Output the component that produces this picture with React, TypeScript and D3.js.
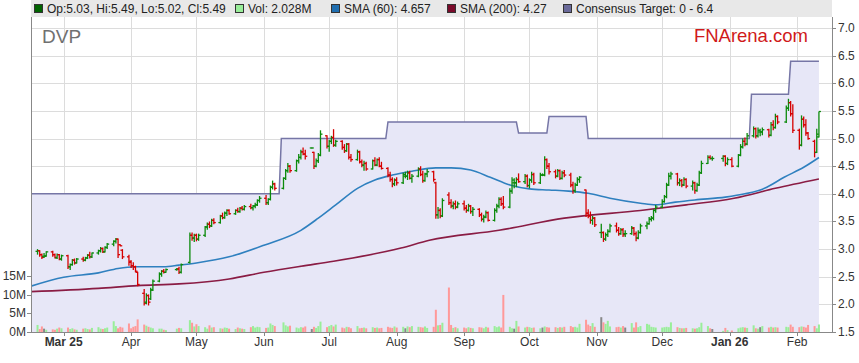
import React from 'react';
import * as d3 from 'd3';

type Bar = [number, number, number, number]; // open, high, low, close

// ---- daily OHLC ----
const feb25: Bar[] = [
  [2.96, 3.0, 2.9, 2.97], [2.97, 2.98, 2.86, 2.9], [2.9, 2.92, 2.82, 2.85], [2.87, 2.93, 2.84, 2.87], [2.88, 2.96, 2.86, 2.95],
  [2.95, 2.97, 2.86, 2.9], [2.9, 2.92, 2.83, 2.85], [2.84, 2.92, 2.82, 2.9], [2.9, 2.91, 2.8, 2.82], [2.82, 2.9, 2.79, 2.88],
];
const mar25: Bar[] = [
  [2.88, 2.9, 2.64, 2.68], [2.68, 2.74, 2.62, 2.72], [2.72, 2.82, 2.7, 2.8], [2.8, 2.83, 2.72, 2.75], [2.75, 2.84, 2.74, 2.82],
  [2.82, 2.86, 2.77, 2.8], [2.8, 2.86, 2.78, 2.84], [2.84, 2.91, 2.82, 2.89], [2.89, 2.95, 2.83, 2.86], [2.86, 2.94, 2.84, 2.93],
  [2.93, 2.99, 2.9, 2.97], [2.97, 3.04, 2.94, 3.01], [3.01, 3.03, 2.93, 2.95], [2.95, 3.05, 2.94, 3.03], [3.03, 3.11, 3.0, 3.09],
  [3.09, 3.16, 3.05, 3.14], [3.14, 3.2, 3.1, 3.18], [3.18, 3.19, 2.84, 2.9], [3.08, 3.09, 3.05, 3.06], [2.98, 3.0, 2.82, 2.86],
  [2.86, 2.9, 2.7, 2.76],
];
const apr25: Bar[] = [
  [2.78, 2.8, 2.66, 2.7], [2.7, 2.76, 2.62, 2.68], [2.68, 2.7, 2.58, 2.6], [2.58, 2.59, 2.33, 2.36], [2.2, 2.28, 1.98, 2.02],
  [2.04, 2.2, 2.0, 2.16], [2.16, 2.18, 1.98, 2.04], [2.1, 2.3, 2.08, 2.26], [2.26, 2.45, 2.24, 2.42], [2.42, 2.58, 2.4, 2.55],
  [2.55, 2.62, 2.5, 2.6], [2.6, 2.64, 2.56, 2.58], [2.58, 2.65, 2.57, 2.63], [2.63, 2.66, 2.61, 2.64], [2.64, 2.68, 2.55, 2.58],
  [2.58, 2.74, 2.56, 2.72], [2.76, 3.3, 2.74, 3.25], [3.25, 3.3, 3.15, 3.2], [3.2, 3.28, 3.13, 3.25],
];
const may25: Bar[] = [
  [3.25, 3.28, 3.14, 3.18], [3.18, 3.28, 3.15, 3.25], [3.25, 3.42, 3.22, 3.4], [3.4, 3.48, 3.35, 3.45], [3.45, 3.5, 3.38, 3.42],
  [3.42, 3.55, 3.4, 3.52], [3.52, 3.56, 3.45, 3.48], [3.48, 3.62, 3.46, 3.6], [3.6, 3.66, 3.54, 3.57], [3.57, 3.68, 3.55, 3.65],
  [3.65, 3.72, 3.6, 3.7], [3.7, 3.72, 3.62, 3.64], [3.64, 3.72, 3.62, 3.7], [3.7, 3.75, 3.66, 3.68], [3.68, 3.76, 3.66, 3.74],
  [3.74, 3.78, 3.7, 3.72], [3.72, 3.8, 3.7, 3.77], [3.77, 3.82, 3.72, 3.75], [3.75, 3.8, 3.7, 3.78], [3.78, 3.84, 3.74, 3.8],
  [3.8, 3.9, 3.78, 3.88], [3.88, 3.96, 3.84, 3.92],
];
const jun25: Bar[] = [
  [3.92, 3.98, 3.8, 3.84], [3.84, 3.92, 3.8, 3.9], [3.9, 4.15, 3.88, 4.12], [4.12, 4.24, 4.08, 4.18], [4.18, 4.2, 4.06, 4.1],
  [4.1, 4.3, 4.08, 4.28], [4.28, 4.45, 4.25, 4.42], [4.42, 4.56, 4.38, 4.5], [4.5, 4.52, 4.38, 4.42], [4.42, 4.62, 4.4, 4.6],
  [4.6, 4.72, 4.55, 4.66], [4.66, 4.8, 4.62, 4.76], [4.76, 4.84, 4.7, 4.72], [4.72, 4.8, 4.62, 4.68], [4.83, 4.84, 4.82, 4.83],
  [4.75, 4.76, 4.45, 4.5], [4.5, 4.64, 4.48, 4.6], [4.6, 4.74, 4.56, 4.7], [4.7, 5.15, 4.68, 5.08], [5.05, 5.06, 4.82, 4.86],
];
const jul25: Bar[] = [
  [4.86, 4.98, 4.76, 4.95], [4.95, 5.05, 4.9, 5.02], [5.02, 5.17, 4.85, 4.88], [4.88, 4.98, 4.85, 4.95], [4.95, 4.97, 4.8, 4.84],
  [4.84, 4.9, 4.74, 4.78], [4.78, 4.92, 4.76, 4.9], [4.9, 4.92, 4.62, 4.66], [4.66, 4.72, 4.58, 4.62], [4.62, 4.8, 4.6, 4.76],
  [4.76, 4.78, 4.55, 4.58], [4.58, 4.62, 4.48, 4.52], [4.52, 4.6, 4.42, 4.55], [4.55, 4.58, 4.42, 4.45], [4.45, 4.62, 4.44, 4.6],
  [4.6, 4.66, 4.5, 4.52], [4.52, 4.64, 4.5, 4.62], [4.62, 4.66, 4.48, 4.5], [4.5, 4.58, 4.44, 4.46], [4.46, 4.48, 4.3, 4.34],
  [4.34, 4.4, 4.22, 4.26], [4.26, 4.3, 4.12, 4.18], [4.18, 4.28, 4.14, 4.25],
];
const aug25: Bar[] = [
  [4.25, 4.3, 4.15, 4.2], [4.2, 4.38, 4.18, 4.35], [4.32, 4.4, 4.28, 4.32], [4.32, 4.42, 4.25, 4.38], [4.38, 4.42, 4.26, 4.28],
  [4.28, 4.36, 4.2, 4.32], [4.32, 4.48, 4.3, 4.45], [4.45, 4.5, 4.32, 4.35], [4.35, 4.42, 4.2, 4.24], [4.24, 4.38, 4.22, 4.36],
  [4.36, 4.45, 4.3, 4.4], [4.4, 4.42, 4.22, 4.26], [4.2, 4.22, 3.55, 3.62], [3.62, 3.76, 3.55, 3.7], [3.7, 3.74, 3.56, 3.6],
  [3.6, 3.92, 3.58, 3.88], [3.98, 4.03, 3.8, 3.84], [3.84, 3.9, 3.74, 3.78], [3.78, 3.86, 3.72, 3.82], [3.82, 3.88, 3.72, 3.76],
  [3.76, 3.86, 3.74, 3.82],
];
const sep25: Bar[] = [
  [3.82, 3.88, 3.7, 3.74], [3.74, 3.8, 3.66, 3.7], [3.7, 3.82, 3.68, 3.78], [3.78, 3.8, 3.64, 3.68], [3.68, 3.76, 3.6, 3.72],
  [3.72, 3.74, 3.58, 3.62], [3.62, 3.66, 3.5, 3.54], [3.54, 3.62, 3.48, 3.58], [3.58, 3.7, 3.56, 3.66], [3.66, 3.68, 3.5, 3.52],
  [3.52, 3.74, 3.5, 3.7], [3.7, 3.82, 3.66, 3.78], [3.78, 3.94, 3.74, 3.9], [3.9, 3.94, 3.78, 3.82], [3.82, 3.96, 3.72, 3.76],
  [3.76, 4.1, 3.74, 4.05], [4.05, 4.3, 4.0, 4.25], [4.2, 4.28, 4.1, 4.2], [4.2, 4.3, 4.12, 4.26], [4.26, 4.37, 4.2, 4.22],
  [4.22, 4.36, 4.18, 4.32], [4.32, 4.35, 4.12, 4.15],
];
const oct25: Bar[] = [
  [4.15, 4.28, 4.1, 4.25], [4.25, 4.4, 4.2, 4.35], [4.35, 4.38, 4.16, 4.2], [4.2, 4.38, 4.18, 4.34], [4.34, 4.37, 4.32, 4.34],
  [4.34, 4.68, 4.32, 4.62], [4.62, 4.64, 4.45, 4.5], [4.5, 4.56, 4.35, 4.4], [4.4, 4.44, 4.28, 4.32], [4.32, 4.45, 4.3, 4.42],
  [4.42, 4.44, 4.25, 4.28], [4.28, 4.42, 4.26, 4.38], [4.38, 4.43, 4.3, 4.34], [4.34, 4.38, 4.12, 4.16], [4.16, 4.22, 4.0, 4.06],
  [4.06, 4.2, 4.02, 4.16], [4.16, 4.3, 4.14, 4.26], [4.26, 4.32, 4.2, 4.3], [4.07, 4.08, 3.58, 3.65], [3.65, 3.72, 3.56, 3.6],
  [3.6, 3.68, 3.46, 3.52], [3.52, 3.6, 3.44, 3.56], [3.56, 3.58, 3.4, 3.44],
];
const nov25: Bar[] = [
  [3.3, 3.46, 3.2, 3.3], [3.3, 3.32, 3.13, 3.18], [3.18, 3.3, 3.15, 3.26], [3.26, 3.36, 3.22, 3.32], [3.32, 3.46, 3.3, 3.42],
  [3.42, 3.48, 3.3, 3.34], [3.34, 3.4, 3.24, 3.28], [3.28, 3.38, 3.26, 3.35], [3.35, 3.38, 3.22, 3.26], [3.28, 3.34, 3.22, 3.28],
  [3.28, 3.42, 3.26, 3.38], [3.38, 3.4, 3.24, 3.28], [3.28, 3.32, 3.14, 3.2], [3.2, 3.34, 3.18, 3.3], [3.3, 3.46, 3.28, 3.42],
  [3.42, 3.5, 3.36, 3.46], [3.46, 3.58, 3.44, 3.54], [3.54, 3.6, 3.5, 3.56], [3.56, 3.72, 3.52, 3.7], [3.7, 3.8, 3.66, 3.76],
];
const dec25: Bar[] = [
  [3.76, 3.9, 3.74, 3.86], [3.86, 3.98, 3.84, 3.95], [3.95, 4.2, 3.92, 4.16], [4.16, 4.38, 4.14, 4.32], [4.32, 4.4, 4.26, 4.36],
  [4.36, 4.38, 4.15, 4.2], [4.2, 4.28, 4.14, 4.24], [4.24, 4.27, 4.12, 4.16], [4.16, 4.3, 4.14, 4.26], [4.26, 4.28, 4.1, 4.14],
  [4.14, 4.24, 4.06, 4.2], [4.2, 4.22, 4.0, 4.06], [4.06, 4.2, 4.04, 4.16], [4.16, 4.42, 4.14, 4.38], [4.38, 4.6, 4.36, 4.55],
  [4.55, 4.7, 4.54, 4.66], [4.66, 4.7, 4.62, 4.64], [4.64, 4.68, 4.6, 4.64], [4.64, 4.7, 4.58, 4.68], [4.68, 4.7, 4.5, 4.55],
  [4.55, 4.66, 4.52, 4.62],
];
const jan26: Bar[] = [
  [4.62, 4.66, 4.48, 4.5], [4.5, 4.72, 4.48, 4.7], [4.7, 4.9, 4.68, 4.85], [4.85, 5.0, 4.82, 4.95], [4.95, 5.02, 4.86, 4.9],
  [4.9, 5.1, 4.88, 5.05], [5.05, 5.22, 5.02, 5.18], [5.18, 5.2, 5.0, 5.05], [5.05, 5.2, 5.02, 5.15], [5.12, 5.18, 5.04, 5.12],
  [5.12, 5.2, 5.06, 5.16], [5.16, 5.18, 5.02, 5.06], [5.06, 5.3, 5.04, 5.25], [5.25, 5.33, 5.15, 5.2], [5.2, 5.45, 5.18, 5.4],
  [5.4, 5.42, 5.26, 5.3], [5.3, 5.6, 5.28, 5.55], [5.55, 5.72, 5.5, 5.65], [5.65, 5.68, 5.4, 5.45], [5.45, 5.62, 5.1, 5.15],
];
const feb26: Bar[] = [
  [5.15, 5.18, 4.8, 4.88], [4.88, 5.42, 4.86, 5.35], [5.35, 5.4, 5.2, 5.25], [5.25, 5.35, 5.05, 5.1], [5.1, 5.12, 4.98, 5.0],
  [4.95, 4.98, 4.66, 4.75], [4.75, 5.18, 4.74, 5.08], [5.03, 5.49, 5.02, 5.49],
];

// ---- daily volume, millions ----
const volFeb25 = [1.9, 0.8, 1.5, 0.9, 0.6, 0.7, 0.6, 0.9, 1.2, 1.0];
const volMar25 = [1.2, 0.8, 1.0, 0.7, 0.6, 0.9, 1.0, 0.8, 0.7, 1.1, 1.3, 0.9, 0.8, 1.0, 1.2, 2.9, 1.6, 1.0, 1.4, 1.2, 2.3];
const volApr25 = [1.0, 1.4, 1.6, 3.4, 2.0, 1.7, 1.4, 1.2, 1.0, 0.9, 0.9, 0.6, 0.5, 0.9, 1.1, 1.0, 3.2, 2.5, 1.5];
const volMay25 = [2.1, 1.6, 1.3, 0.9, 1.8, 1.2, 1.3, 1.0, 0.9, 1.2, 1.1, 0.9, 0.8, 1.2, 1.0, 0.9, 0.8, 1.3, 1.6, 1.2, 1.4, 1.3];
const volJun25 = [1.1, 1.2, 2.3, 1.9, 1.6, 2.6, 1.8, 1.5, 1.7, 1.2, 1.0, 1.3, 1.2, 1.5, 0.8, 1.4, 1.1, 1.6, 2.8, 1.3];
const volJul25 = [1.6, 1.9, 1.5, 2.0, 1.2, 1.0, 1.4, 1.3, 1.0, 1.6, 1.0, 1.1, 1.2, 1.0, 1.3, 1.1, 1.2, 1.0, 1.1, 1.4, 1.2, 1.1, 1.5];
const volAug25 = [1.2, 1.4, 1.0, 1.5, 1.3, 1.6, 1.4, 1.3, 1.2, 1.5, 1.1, 1.4, 6.0, 1.8, 1.9, 2.5, 12.0, 1.9, 1.1, 1.3, 1.0];
const volSep25 = [1.2, 1.0, 1.3, 1.1, 1.0, 1.3, 1.2, 1.0, 1.4, 1.2, 1.6, 1.3, 1.5, 1.2, 10.0, 1.4, 1.0, 0.9, 3.0, 1.5, 1.2, 1.4];
const volOct25 = [1.3, 1.1, 1.2, 1.0, 1.2, 1.5, 1.3, 1.2, 1.3, 1.1, 1.3, 1.2, 1.4, 1.6, 1.3, 1.4, 1.2, 2.2, 3.3, 2.0, 1.6, 2.4, 1.4];
const volNov25 = [4.0, 2.6, 2.2, 3.0, 1.5, 1.3, 1.4, 1.2, 1.6, 1.2, 2.4, 1.2, 2.6, 1.3, 1.6, 2.2, 2.0, 1.4, 1.3, 1.2];
const volDec25 = [1.2, 1.3, 1.4, 1.3, 2.6, 1.3, 1.1, 1.0, 1.0, 1.1, 1.0, 0.9, 1.0, 1.3, 2.5, 1.6, 1.0, 0.8, 0.3, 1.1, 0.5];
const volJan26 = [0.4, 1.0, 1.2, 1.3, 1.2, 1.1, 1.8, 1.0, 0.9, 1.3, 1.6, 1.2, 1.4, 1.2, 1.3, 1.2, 1.4, 1.3, 2.0, 1.4];
const volFeb26 = [1.3, 1.5, 1.4, 1.2, 1.9, 1.6, 1.0, 2.028];

// ASX closed days inside the range
const holidays = ['2025-04-18', '2025-04-21', '2025-04-25', '2025-06-09', '2025-12-25', '2025-12-26', '2026-01-01', '2026-01-26'];

const months: { from: string; to: string; bars: Bar[]; vol: number[] }[] = [
  { from: '2025-02-17', to: '2025-02-28', bars: feb25, vol: volFeb25 },
  { from: '2025-03-01', to: '2025-03-31', bars: mar25, vol: volMar25 },
  { from: '2025-04-01', to: '2025-04-30', bars: apr25, vol: volApr25 },
  { from: '2025-05-01', to: '2025-05-31', bars: may25, vol: volMay25 },
  { from: '2025-06-01', to: '2025-06-30', bars: jun25, vol: volJun25 },
  { from: '2025-07-01', to: '2025-07-31', bars: jul25, vol: volJul25 },
  { from: '2025-08-01', to: '2025-08-31', bars: aug25, vol: volAug25 },
  { from: '2025-09-01', to: '2025-09-30', bars: sep25, vol: volSep25 },
  { from: '2025-10-01', to: '2025-10-31', bars: oct25, vol: volOct25 },
  { from: '2025-11-01', to: '2025-11-30', bars: nov25, vol: volNov25 },
  { from: '2025-12-01', to: '2025-12-31', bars: dec25, vol: volDec25 },
  { from: '2026-01-01', to: '2026-01-31', bars: jan26, vol: volJan26 },
  { from: '2026-02-01', to: '2026-02-11', bars: feb26, vol: volFeb26 },
];

// consensus target: date it changed, new value
const consensus: [string, number][] = [
  ['2025-02-14', 4.0], ['2025-06-09', 5.0], ['2025-07-28', 5.3], ['2025-09-26', 5.1],
  ['2025-10-10', 5.4], ['2025-10-28', 5.0], ['2026-01-11', 5.8], ['2026-01-29', 6.4],
];
const lastDay = '2026-02-11';

// moving averages
const sma60: [string, number][] = [
  ['2025-02-14', 2.33], ['2025-03-01', 2.49], ['2025-03-17', 2.57], ['2025-03-26', 2.65], ['2025-04-03', 2.68],
  ['2025-04-16', 2.68], ['2025-04-23', 2.71], ['2025-05-01', 2.75], ['2025-05-16', 2.86],
  ['2025-06-01', 3.07], ['2025-06-18', 3.34], ['2025-06-26', 3.56], ['2025-07-04', 3.8], ['2025-07-14', 4.1],
  ['2025-07-22', 4.25], ['2025-07-30', 4.34], ['2025-08-08', 4.41], ['2025-08-19', 4.47], ['2025-08-26', 4.47],
  ['2025-09-04', 4.43], ['2025-09-13', 4.3], ['2025-09-22', 4.16], ['2025-10-01', 4.09], ['2025-10-10', 4.07],
  ['2025-10-19', 4.05], ['2025-10-28', 4.01], ['2025-11-07', 3.92], ['2025-11-21', 3.83], ['2025-11-28', 3.8],
  ['2025-12-07', 3.85], ['2025-12-16', 3.89], ['2025-12-30', 3.94], ['2026-01-08', 4.0], ['2026-01-17', 4.1],
  ['2026-01-26', 4.3], ['2026-02-04', 4.48], ['2026-02-11', 4.657],
];
const sma200: [string, number][] = [
  ['2025-02-14', 2.23], ['2025-03-17', 2.29], ['2025-04-04', 2.34], ['2025-04-23', 2.37], ['2025-05-16', 2.46],
  ['2025-06-01', 2.58], ['2025-06-18', 2.69], ['2025-07-03', 2.78], ['2025-08-03', 3.02], ['2025-08-16', 3.16],
  ['2025-09-17', 3.34], ['2025-10-17', 3.56], ['2025-11-21', 3.7], ['2025-12-12', 3.8], ['2026-01-03', 3.92],
  ['2026-01-22', 4.1], ['2026-02-11', 4.27],
];

const priceTicks = [1.5, 2.0, 2.5, 3.0, 3.5, 4.0, 4.5, 5.0, 5.5, 6.0, 6.5, 7.0];
const volTicks = [0, 5, 10, 15];

const parse = d3.timeParse('%Y-%m-%d');
const fmt = d3.timeFormat('%Y-%m-%d');

const W = 859;
const H = 363;
const plot = { left: 31, right: 832, top: 17, bottom: 332 };
const FONT = 'Arial, "Liberation Sans", sans-serif';

function tradingDays(from: string, to: string): Date[] {
  const out: Date[] = [];
  const end = parse(to)!;
  for (let d = parse(from)!; d <= end; d = d3.timeDay.offset(d, 1)) {
    const wd = d.getDay();
    if (wd === 0 || wd === 6 || holidays.includes(fmt(d))) continue;
    out.push(d);
  }
  return out;
}

interface Day { date: Date; o: number; h: number; l: number; c: number; v: number }

const days: Day[] = [];
months.forEach((m) => {
  const dates = tradingDays(m.from, m.to);
  const n = Math.min(dates.length, m.bars.length, m.vol.length);
  for (let i = 0; i < n; i++) {
    const [o, h, l, c] = m.bars[i];
    days.push({ date: dates[i], o, h, l, c, v: m.vol[i] });
  }
});

export default function App() {
  const x = d3.scaleTime()
    .domain([parse('2025-02-14')!, parse('2026-02-17')!])
    .range([plot.left, plot.right]);
  const y = d3.scaleLinear().domain([1.5, 7.2]).range([plot.bottom, plot.top]);
  const yVol = d3.scaleLinear().domain([0, 85]).range([plot.bottom, plot.top]);

  // consensus as a daily step line
  const consPts: [Date, number][] = [];
  consensus.forEach(([d, v], i) => {
    const date = parse(d)!;
    if (i > 0) consPts.push([d3.timeDay.offset(date, -1), consensus[i - 1][1]]);
    consPts.push([date, v]);
  });
  consPts.push([parse(lastDay)!, consensus[consensus.length - 1][1]]);

  const consLine = d3.line<[Date, number]>().x((d) => x(d[0])).y((d) => y(d[1]))(consPts) || '';
  const consArea = d3.area<[Date, number]>().x((d) => x(d[0])).y0(plot.bottom).y1((d) => y(d[1]))(consPts) || '';

  const smaLine = d3.line<[string, number]>()
    .x((d) => x(parse(d[0])!))
    .y((d) => y(d[1]))
    .curve(d3.curveMonotoneX);

  const monthTicks = d3.timeMonth.range(parse('2025-03-01')!, parse('2026-02-02')!);
  const monthLabel = (d: Date) =>
    d.getMonth() === 0 || (d.getMonth() === 2 && d.getFullYear() === 2025)
      ? d3.timeFormat('%b %y')(d)
      : d3.timeFormat('%b')(d);

  const green = '#0b8a0b';
  const red = '#d60000';

  const legend = [
    { x: 34, color: '#006400', text: 'Op:5.03, Hi:5.49, Lo:5.02, Cl:5.49' },
    { x: 235, color: '#99ee99', text: 'Vol: 2.028M' },
    { x: 331, color: '#1f6eb0', text: 'SMA (60): 4.657' },
    { x: 447, color: '#7a0a2a', text: 'SMA (200): 4.27' },
    { x: 563, color: '#6a6a9a', text: 'Consensus Target: 0 - 6.4' },
  ];

  return (
    <svg width={W} height={H} style={{ position: 'absolute', left: 0, top: 0, background: '#fff' }} fontFamily={FONT}>
      <defs>
        <clipPath id="plotClip">
          <rect x={plot.left} y={plot.top} width={plot.right - plot.left} height={plot.bottom - plot.top} />
        </clipPath>
      </defs>

      {/* grid */}
      <g stroke="#dcdcdc" strokeWidth={1} shapeRendering="crispEdges">
        {priceTicks.map((t) => (
          <line key={`h${t}`} x1={plot.left} x2={plot.right} y1={Math.round(y(t)) + 0.5} y2={Math.round(y(t)) + 0.5} />
        ))}
        {monthTicks.map((d) => (
          <line key={`v${+d}`} x1={Math.round(x(d)) + 0.5} x2={Math.round(x(d)) + 0.5} y1={plot.top} y2={plot.bottom} />
        ))}
      </g>

      <g clipPath="url(#plotClip)">
        {/* consensus target */}
        <path d={consArea} fill="#e7e7f7" />
        <path d={consLine} fill="none" stroke="#7676a6" strokeWidth={1.5} />

        {/* volume */}
        {days.map((d, i) => (
          <rect
            key={`v${i}`}
            x={x(d.date) - 1}
            width={2}
            y={yVol(d.v)}
            height={plot.bottom - yVol(d.v)}
            fill={d.c > d.o ? '#99ee99' : d.c < d.o ? '#ff9999' : '#888888'}
          />
        ))}

        {/* moving averages */}
        <path d={smaLine(sma200) || ''} fill="none" stroke="#8a1c44" strokeWidth={1.6} />
        <path d={smaLine(sma60) || ''} fill="none" stroke="#2f80bf" strokeWidth={1.6} />

        {/* OHLC bars */}
        {days.map((d, i) => {
          const cx = x(d.date);
          const col = d.c >= d.o ? green : red;
          return (
            <g key={`b${i}`} stroke={col} strokeWidth={1.3}>
              <line x1={cx} x2={cx} y1={y(d.h)} y2={y(d.l)} />
              <line x1={cx - 2} x2={cx} y1={y(d.o)} y2={y(d.o)} />
              <line x1={cx} x2={cx + 2} y1={y(d.c)} y2={y(d.c)} />
            </g>
          );
        })}
      </g>

      {/* legend strip */}
      <rect x={plot.left} y={0} width={plot.right - plot.left} height={17} fill="#e8e8e8" />
      {legend.map((l) => (
        <g key={l.text}>
          <rect x={l.x + 0.5} y={4.5} width={8} height={8} fill={l.color} stroke="#333" strokeWidth={1} />
          <text x={l.x + 13} y={13} fontSize={12} fill="#222">{l.text}</text>
        </g>
      ))}

      {/* titles */}
      <text x={42} y={43} fontSize={19} fill="#707070">DVP</text>
      <text x={808} y={42} fontSize={18.5} fill="#d01a1a" textAnchor="end">FNArena.com</text>

      {/* axes */}
      <g stroke="#888" strokeWidth={1} shapeRendering="crispEdges">
        <line x1={plot.left + 0.5} x2={plot.left + 0.5} y1={plot.top} y2={plot.bottom} />
        <line x1={plot.right + 0.5} x2={plot.right + 0.5} y1={plot.top} y2={plot.bottom + 0.5} />
        <line x1={plot.left} x2={plot.right} y1={plot.bottom + 0.5} y2={plot.bottom + 0.5} />
        {priceTicks.map((t) => (
          <line key={`pt${t}`} x1={plot.right} x2={plot.right + 4} y1={Math.round(y(t)) + 0.5} y2={Math.round(y(t)) + 0.5} />
        ))}
        {volTicks.map((t) => (
          <line key={`vt${t}`} x1={plot.left - 4} x2={plot.left} y1={Math.round(yVol(t)) + 0.5} y2={Math.round(yVol(t)) + 0.5} />
        ))}
        {monthTicks.map((d) => (
          <line key={`mt${+d}`} x1={Math.round(x(d)) + 0.5} x2={Math.round(x(d)) + 0.5} y1={plot.bottom} y2={plot.bottom + 4} />
        ))}
      </g>

      <g fontSize={12} fill="#333">
        {priceTicks.map((t) => (
          <text key={`pl${t}`} x={plot.right + 6} y={y(t) + 4}>{t.toFixed(1)}</text>
        ))}
        {volTicks.map((t) => (
          <text key={`vl${t}`} x={plot.left - 5} y={yVol(t) + 4} textAnchor="end">{`${t}M`}</text>
        ))}
        {monthTicks.map((d) => {
          const label = monthLabel(d);
          return (
            <text key={`ml${+d}`} x={x(d)} y={346} textAnchor="middle" fontWeight={label.includes(' ') ? 'bold' : 'normal'}>
              {label}
            </text>
          );
        })}
      </g>
    </svg>
  );
}
